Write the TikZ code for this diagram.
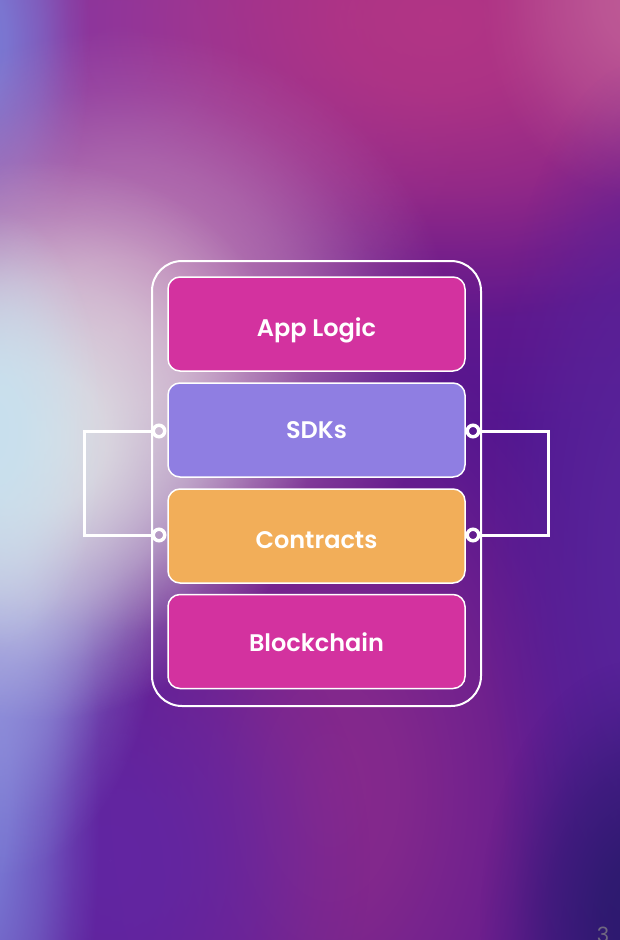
\documentclass[tikz,border=0pt]{standalone}
\usepackage{fontspec}
\setmainfont{Poppins}[BoldFont={Poppins SemiBold}]
\usetikzlibrary{fadings}
\definecolor{magA}{HTML}{D3329F}
\definecolor{lav}{HTML}{8F7EE2}
\definecolor{orng}{HTML}{F2AE59}
\definecolor{bgTop}{HTML}{B23585}
\definecolor{bgMag}{HTML}{A82A84}
\definecolor{bgMid}{HTML}{7C1E88}
\definecolor{bgLow}{HTML}{521590}
\definecolor{bgBot}{HTML}{561692}
\definecolor{gTL}{HTML}{8838A2}
\definecolor{gTR}{RGB}{190,90,150}
\definecolor{gBC}{RGB}{135,42,140}
\definecolor{gBL}{RGB}{98,38,162}
\definecolor{gRS}{RGB}{88,36,154}
\definecolor{gBR}{RGB}{44,26,110}
\definecolor{gBlue}{RGB}{122,124,214}
\definecolor{gPink}{RGB}{198,140,186}
\definecolor{gWhite}{RGB}{222,224,228}
\definecolor{gIce}{RGB}{200,224,238}
\definecolor{gLav}{RGB}{150,150,220}
\definecolor{pgnum}{RGB}{112,104,128}
\pgfdeclareverticalshading{bgv}{100bp}{color(0bp)=(bgBot); color(30bp)=(bgLow); color(52bp)=(bgLow); color(72bp)=(bgMid); color(84bp)=(bgMag); color(100bp)=(bgTop)}
\pgfdeclareradialshading{softsh}{\pgfpointorigin}{color(0bp)=(white); color(6bp)=(white!90!black); color(14bp)=(white!55!black); color(20bp)=(white!20!black); color(25bp)=(black); color(50bp)=(black)}
\pgfdeclarefading{soft}{\pgfuseshading{softsh}}
\tikzset{
  layer/.style={draw=white, line width=1.5pt, rounded corners=12pt, minimum width=297pt, minimum height=94pt, inner sep=0pt, anchor=center},
  lbl/.style={text=white, font=\bfseries\fontsize{24}{28}\selectfont},
  port/.style={circle, draw=white, line width=3.5pt, minimum size=11.5pt, inner sep=0pt},
  link/.style={draw=white, line width=3pt, line join=miter},
  glow/.style={fill=#1, path fading=soft}
}
\begin{document}
\begin{tikzpicture}[x=1pt, y=-1pt]
\useasboundingbox (0,0) rectangle (620,940);
\begin{scope}
\clip (0,0) rectangle (620,940);
\shade[shading=bgv] (0,0) rectangle (620,940);
\fill[glow=gTL] (120,60) ellipse (360pt and 340pt);
\fill[glow=bgTop] (440,20) ellipse (420pt and 300pt);
\fill[glow=gTR] (640,0) ellipse (160pt and 200pt);
\fill[glow=gBC] (330,790) ellipse (300pt and 480pt);
\fill[glow=gBL] (110,860) ellipse (260pt and 300pt);
\fill[glow=gRS] (640,560) ellipse (160pt and 500pt);
\fill[glow=gBR] (640,920) ellipse (160pt and 260pt);
\fill[glow=gBlue] (-20,790) ellipse (120pt and 500pt);
\fill[glow=gBlue] (-20,40) ellipse (110pt and 260pt);
\fill[glow=gLav] (-10,600) ellipse (170pt and 280pt);
\fill[glow=gPink] (120,330) ellipse (330pt and 300pt);
\fill[glow=gWhite] (40,440) ellipse (270pt and 280pt);
\fill[glow=gIce] (-5,430) ellipse (110pt and 220pt);
\end{scope}

% outer frame
\node[draw=white, line width=2pt, rounded corners=30pt, minimum width=329pt, minimum height=445pt, inner sep=0pt] (frame) at (316.5,483.5) {};

% layers
\node[layer, fill=magA] (app) at (316.5,324) {};
\node[layer, fill=lav] (sdk) at (316.5,430) {};
\node[layer, fill=orng] (con) at (316.5,536) {};
\node[layer, fill=magA] (chain) at (316.5,641.5) {};
\node[lbl, anchor=base] (appt) at (316.5,336) {App Logic};
\node[lbl, anchor=base] (sdkt) at (316.5,438) {SDKs};
\node[lbl, anchor=base] (cont) at (316.5,548) {Contracts};
\node[lbl, anchor=base] (chaint) at (316.5,651) {Blockchain};

% ports
\node[port] (pl1) at (159,431) {};
\node[port] (pl2) at (159,535) {};
\node[port] (pr1) at (473,431) {};
\node[port] (pr2) at (473,535) {};
\coordinate (bl) at (84,431);
\coordinate (br) at (548,431);
\draw[link] (pl1.west) -- (bl) |- (pl2.west);
\draw[link] (pr1.east) -- (br) |- (pr2.east);

% page number
\node[anchor=north, inner sep=0pt, text=pgnum, font=\fontsize{21}{24}\selectfont] (pg) at (603,927) {3};
\end{tikzpicture}
\end{document}
